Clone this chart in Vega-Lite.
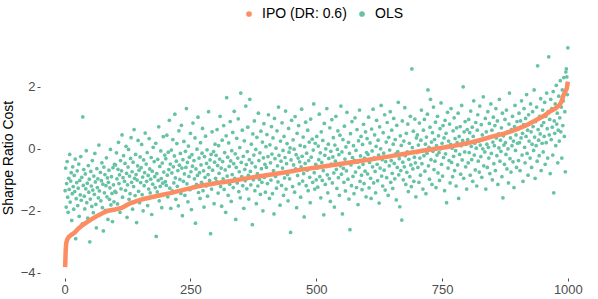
{
"$schema": "https://vega.github.io/schema/vega-lite/v6.json",
"width": 553, "height": 241,
"autosize": {"type": "none"},
"padding": {"left": 40, "top": 37, "right": 5, "bottom": 21},
"config": {"view": {"stroke": null}, "font": "Liberation Sans",
 "axis": {"domain": false, "grid": false, "tickColor": "#4D4D4D", "tickSize": 3, "tickWidth": 1, "labelColor": "#4D4D4D", "labelFontSize": 13, "labelFont": "Liberation Sans", "labelPadding": 2, "titleFont": "Liberation Sans", "titleFontSize": 14, "titleFontWeight": "normal", "titleColor": "#000000"}},
"datasets": {
"ols": [
{"x":1,"y":-1.35},{"x":2,"y":-0.62},{"x":3,"y":-1.88},{"x":4,"y":-1.12},{"x":5,"y":-0.41},{"x":6,"y":-1.56},{"x":7,"y":-2.05},{"x":8,"y":-0.95},{"x":9,"y":-1.31},{"x":10,"y":-0.18},
{"x":11,"y":-1.72},{"x":12,"y":-1.04},{"x":13,"y":-0.77},{"x":14,"y":-2.31},{"x":15,"y":-1.45},{"x":16,"y":-0.58},{"x":17,"y":-1.22},{"x":18,"y":-1.95},{"x":19,"y":-0.86},{"x":20,"y":-1.38},
{"x":21,"y":-0.33},{"x":22,"y":-2.9},{"x":23,"y":-1.61},{"x":24,"y":-1.09},{"x":25,"y":-0.71},{"x":26,"y":-1.83},{"x":27,"y":-1.27},{"x":28,"y":-0.49},{"x":29,"y":-2.18},{"x":30,"y":-1.02},
{"x":31,"y":-1.49},{"x":32,"y":-0.25},{"x":33,"y":-1.66},{"x":34,"y":-0.92},{"x":35,"y":-2.42},{"x":36,"y":1.03},{"x":37,"y":-1.18},{"x":38,"y":-0.67},{"x":39,"y":-1.53},{"x":40,"y":-1.94},
{"x":41,"y":-0.81},{"x":42,"y":-1.29},{"x":43,"y":-0.06},{"x":44,"y":-1.74},{"x":45,"y":-1.11},{"x":46,"y":-2.24},{"x":47,"y":-0.54},{"x":48,"y":-1.4},{"x":49,"y":-0.98},{"x":50,"y":-3.0},
{"x":51,"y":-1.62},{"x":52,"y":-0.73},{"x":53,"y":-1.2},{"x":54,"y":-1.86},{"x":55,"y":-0.38},{"x":56,"y":-1.33},{"x":57,"y":-2.06},{"x":58,"y":-0.88},{"x":59,"y":-1.47},{"x":60,"y":-0.15},
{"x":61,"y":-1.07},{"x":62,"y":-1.79},{"x":63,"y":-2.55},{"x":64,"y":-0.64},{"x":65,"y":-1.25},{"x":66,"y":-0.97},{"x":67,"y":-1.58},{"x":68,"y":0.12},{"x":69,"y":-1.36},{"x":70,"y":-2.12},
{"x":71,"y":-0.76},{"x":72,"y":-1.68},{"x":73,"y":-1.03},{"x":74,"y":-0.45},{"x":75,"y":-1.9},{"x":76,"y":-1.14},{"x":77,"y":-2.65},{"x":78,"y":-0.59},{"x":79,"y":-1.42},{"x":80,"y":-0.83},
{"x":81,"y":-1.99},{"x":82,"y":-1.19},{"x":83,"y":-0.29},{"x":84,"y":-1.55},{"x":85,"y":-0.94},{"x":86,"y":-2.28},{"x":87,"y":-1.08},{"x":88,"y":-0.69},{"x":89,"y":-1.63},{"x":90,"y":-1.26},
{"x":91,"y":-0.02},{"x":92,"y":-1.81},{"x":93,"y":-0.9},{"x":94,"y":-1.44},{"x":95,"y":-2.35},{"x":96,"y":-0.61},{"x":97,"y":-1.16},{"x":98,"y":-1.71},{"x":99,"y":-0.5},{"x":100,"y":-1.37},
{"x":101,"y":-0.52},{"x":102,"y":-1.41},{"x":103,"y":-0.13},{"x":104,"y":-0.97},{"x":105,"y":-1.78},{"x":106,"y":-0.66},{"x":107,"y":0.21},{"x":108,"y":-1.12},{"x":109,"y":-0.84},{"x":110,"y":-2.05},
{"x":111,"y":-0.38},{"x":112,"y":-1.29},{"x":113,"y":-0.71},{"x":114,"y":0.45},{"x":115,"y":-1.56},{"x":116,"y":-0.93},{"x":117,"y":-0.22},{"x":118,"y":-1.87},{"x":119,"y":-1.05},{"x":120,"y":-0.47},
{"x":121,"y":-1.34},{"x":122,"y":0.08},{"x":123,"y":-0.79},{"x":124,"y":-2.21},{"x":125,"y":-1.16},{"x":126,"y":-0.59},{"x":127,"y":-0.02},{"x":128,"y":-1.63},{"x":129,"y":-0.88},{"x":130,"y":-1.45},
{"x":131,"y":-0.31},{"x":132,"y":0.36},{"x":133,"y":-1.08},{"x":134,"y":-0.74},{"x":135,"y":-1.95},{"x":136,"y":-0.43},{"x":137,"y":-1.22},{"x":138,"y":0.62},{"x":139,"y":-0.95},{"x":140,"y":-1.51},
{"x":141,"y":-0.18},{"x":142,"y":-0.83},{"x":143,"y":-2.38},{"x":144,"y":-1.01},{"x":145,"y":-0.55},{"x":146,"y":0.27},{"x":147,"y":-1.37},{"x":148,"y":-0.69},{"x":149,"y":-1.74},{"x":150,"y":-0.26},
{"x":151,"y":-1.09},{"x":152,"y":-0.61},{"x":153,"y":0.14},{"x":154,"y":-1.48},{"x":155,"y":-0.91},{"x":156,"y":-2.0},{"x":157,"y":-0.36},{"x":158,"y":-1.19},{"x":159,"y":-0.77},{"x":160,"y":0.51},
{"x":161,"y":-1.6},{"x":162,"y":-0.49},{"x":163,"y":-1.05},{"x":164,"y":-0.12},{"x":165,"y":-1.83},{"x":166,"y":-0.86},{"x":167,"y":-1.3},{"x":168,"y":0.33},{"x":169,"y":-0.65},{"x":170,"y":-1.42},
{"x":171,"y":-0.98},{"x":172,"y":-0.28},{"x":173,"y":-2.12},{"x":174,"y":-0.72},{"x":175,"y":-1.14},{"x":176,"y":0.05},{"x":177,"y":-1.55},{"x":178,"y":-0.41},{"x":179,"y":-0.9},{"x":180,"y":-1.25},
{"x":181,"y":0.18},{"x":182,"y":-2.83},{"x":183,"y":-0.8},{"x":184,"y":-1.39},{"x":185,"y":-0.34},{"x":186,"y":-1.02},{"x":187,"y":0.71},{"x":188,"y":-1.68},{"x":189,"y":-0.57},{"x":190,"y":-1.21},
{"x":191,"y":-0.07},{"x":192,"y":-0.96},{"x":193,"y":-1.9},{"x":194,"y":-0.46},{"x":195,"y":-1.11},{"x":196,"y":0.39},{"x":197,"y":-0.75},{"x":198,"y":-1.47},{"x":199,"y":-0.2},{"x":200,"y":-1.06},
{"x":201,"y":-0.32},{"x":202,"y":-1.18},{"x":203,"y":0.44},{"x":204,"y":-0.85},{"x":205,"y":-1.55},{"x":206,"y":-0.11},{"x":207,"y":-0.67},{"x":208,"y":0.92},{"x":209,"y":-1.27},{"x":210,"y":-0.49},
{"x":211,"y":-1.92},{"x":212,"y":-0.04},{"x":213,"y":-0.78},{"x":214,"y":-1.36},{"x":215,"y":0.3},{"x":216,"y":-0.58},{"x":217,"y":-1.1},{"x":218,"y":-0.23},{"x":219,"y":1.12},{"x":220,"y":-0.94},
{"x":221,"y":-1.63},{"x":222,"y":-0.4},{"x":223,"y":0.17},{"x":224,"y":-1.21},{"x":225,"y":-0.7},{"x":226,"y":-1.84},{"x":227,"y":0.58},{"x":228,"y":-0.53},{"x":229,"y":-0.99},{"x":230,"y":-0.15},
{"x":231,"y":-1.44},{"x":232,"y":0.76},{"x":233,"y":-0.62},{"x":234,"y":-2.16},{"x":235,"y":-0.35},{"x":236,"y":-1.05},{"x":237,"y":0.24},{"x":238,"y":-0.81},{"x":239,"y":-1.5},{"x":240,"y":-0.08},
{"x":241,"y":-0.6},{"x":242,"y":1.3},{"x":243,"y":-1.13},{"x":244,"y":-0.44},{"x":245,"y":-1.71},{"x":246,"y":0.09},{"x":247,"y":-0.89},{"x":248,"y":-0.27},{"x":249,"y":-1.32},{"x":250,"y":0.5},
{"x":251,"y":-0.74},{"x":252,"y":-1.96},{"x":253,"y":-0.19},{"x":254,"y":-0.56},{"x":255,"y":0.83},{"x":256,"y":-1.24},{"x":257,"y":-0.38},{"x":258,"y":-0.97},{"x":259,"y":0.35},{"x":260,"y":-2.4},
{"x":261,"y":-0.65},{"x":262,"y":-1.15},{"x":263,"y":-0.01},{"x":264,"y":-0.86},{"x":265,"y":1.02},{"x":266,"y":-1.41},{"x":267,"y":-0.3},{"x":268,"y":-0.77},{"x":269,"y":-1.6},{"x":270,"y":0.2},
{"x":271,"y":-0.52},{"x":272,"y":-1.08},{"x":273,"y":-0.14},{"x":274,"y":0.66},{"x":275,"y":-1.35},{"x":276,"y":-0.71},{"x":277,"y":-1.88},{"x":278,"y":-0.25},{"x":279,"y":-0.92},{"x":280,"y":0.41},
{"x":281,"y":-1.2},{"x":282,"y":-0.47},{"x":283,"y":-0.03},{"x":284,"y":-1.53},{"x":285,"y":-0.83},{"x":286,"y":1.2},{"x":287,"y":-0.6},{"x":288,"y":-1.02},{"x":289,"y":-0.36},{"x":290,"y":-2.74},
{"x":291,"y":-0.18},{"x":292,"y":-1.3},{"x":293,"y":0.55},{"x":294,"y":-0.69},{"x":295,"y":-1.12},{"x":296,"y":-0.09},{"x":297,"y":-1.77},{"x":298,"y":-0.43},{"x":299,"y":0.15},{"x":300,"y":-0.95},
{"x":301,"y":-0.21},{"x":302,"y":-1.06},{"x":303,"y":0.62},{"x":304,"y":-0.54},{"x":305,"y":-1.43},{"x":306,"y":0.1},{"x":307,"y":-0.79},{"x":308,"y":-0.33},{"x":309,"y":1.05},{"x":310,"y":-1.22},
{"x":311,"y":-0.62},{"x":312,"y":-1.85},{"x":313,"y":0.28},{"x":314,"y":-0.41},{"x":315,"y":-0.97},{"x":316,"y":0.75},{"x":317,"y":-1.31},{"x":318,"y":-0.12},{"x":319,"y":-0.68},{"x":320,"y":-2.05},
{"x":321,"y":0.42},{"x":322,"y":1.65},{"x":323,"y":-0.88},{"x":324,"y":-0.27},{"x":325,"y":-1.5},{"x":326,"y":0.19},{"x":327,"y":-0.57},{"x":328,"y":-1.14},{"x":329,"y":0.88},{"x":330,"y":-0.39},
{"x":331,"y":-1.7},{"x":332,"y":-0.06},{"x":333,"y":-0.83},{"x":334,"y":0.53},{"x":335,"y":-1.25},{"x":336,"y":-0.48},{"x":337,"y":1.21},{"x":338,"y":-0.95},{"x":339,"y":-0.16},{"x":340,"y":-2.28},
{"x":341,"y":-0.6},{"x":342,"y":0.34},{"x":343,"y":-1.1},{"x":344,"y":-0.3},{"x":345,"y":0.97},{"x":346,"y":-1.38},{"x":347,"y":-0.74},{"x":348,"y":0.04},{"x":349,"y":-1.58},{"x":350,"y":1.8},
{"x":351,"y":-0.44},{"x":352,"y":-0.9},{"x":353,"y":0.6},{"x":354,"y":-1.19},{"x":355,"y":-0.24},{"x":356,"y":-1.92},{"x":357,"y":0.26},{"x":358,"y":-0.66},{"x":359,"y":-1.03},{"x":360,"y":1.38},
{"x":361,"y":-0.51},{"x":362,"y":-1.29},{"x":363,"y":-0.09},{"x":364,"y":0.7},{"x":365,"y":-0.86},{"x":366,"y":-1.62},{"x":367,"y":-0.35},{"x":368,"y":1.6},{"x":369,"y":-0.73},{"x":370,"y":-1.16},
{"x":371,"y":0.15},{"x":372,"y":-0.45},{"x":373,"y":-2.45},{"x":374,"y":0.48},{"x":375,"y":-1.0},{"x":376,"y":-0.2},{"x":377,"y":0.9},{"x":378,"y":-1.35},{"x":379,"y":-0.58},{"x":380,"y":-0.02},
{"x":381,"y":-1.77},{"x":382,"y":0.37},{"x":383,"y":-0.8},{"x":384,"y":-1.2},{"x":385,"y":1.15},{"x":386,"y":-0.38},{"x":387,"y":-0.99},{"x":388,"y":-0.13},{"x":389,"y":-1.47},{"x":390,"y":0.57},
{"x":391,"y":-0.64},{"x":392,"y":-1.08},{"x":393,"y":0.22},{"x":394,"y":-2.0},{"x":395,"y":-0.29},{"x":396,"y":0.81},{"x":397,"y":-0.92},{"x":398,"y":-0.5},{"x":399,"y":-1.4},{"x":400,"y":0.07},
{"x":401,"y":-0.6},{"x":402,"y":0.46},{"x":403,"y":-1.12},{"x":404,"y":-0.25},{"x":405,"y":1.1},{"x":406,"y":-0.84},{"x":407,"y":-1.6},{"x":408,"y":0.13},{"x":409,"y":-0.45},{"x":410,"y":-1.01},
{"x":411,"y":0.72},{"x":412,"y":-0.17},{"x":413,"y":-1.45},{"x":414,"y":0.35},{"x":415,"y":-0.7},{"x":416,"y":-2.1},{"x":417,"y":0.98},{"x":418,"y":-0.32},{"x":419,"y":-0.89},{"x":420,"y":0.02},
{"x":421,"y":-1.27},{"x":422,"y":0.58},{"x":423,"y":-0.55},{"x":424,"y":-1.07},{"x":425,"y":1.35},{"x":426,"y":-0.21},{"x":427,"y":-0.78},{"x":428,"y":-1.82},{"x":429,"y":0.25},{"x":430,"y":-0.4},
{"x":431,"y":-1.18},{"x":432,"y":0.84},{"x":433,"y":-0.62},{"x":434,"y":-0.05},{"x":435,"y":-1.5},{"x":436,"y":0.4},{"x":437,"y":-0.94},{"x":438,"y":-0.28},{"x":439,"y":1.22},{"x":440,"y":-1.3},
{"x":441,"y":-0.48},{"x":442,"y":0.17},{"x":443,"y":-0.83},{"x":444,"y":-1.68},{"x":445,"y":0.66},{"x":446,"y":-0.11},{"x":447,"y":-0.97},{"x":448,"y":0.03},{"x":449,"y":-2.7},{"x":450,"y":-0.36},
{"x":451,"y":0.92},{"x":452,"y":-0.73},{"x":453,"y":-1.22},{"x":454,"y":0.29},{"x":455,"y":-0.52},{"x":456,"y":-0.01},{"x":457,"y":-1.4},{"x":458,"y":1.04},{"x":459,"y":-0.65},{"x":460,"y":-0.19},
{"x":461,"y":-1.9},{"x":462,"y":0.5},{"x":463,"y":-0.86},{"x":464,"y":-0.3},{"x":465,"y":0.75},{"x":466,"y":-1.13},{"x":467,"y":-0.42},{"x":468,"y":0.11},{"x":469,"y":-1.56},{"x":470,"y":-0.58},
{"x":471,"y":1.28},{"x":472,"y":-0.24},{"x":473,"y":-1.04},{"x":474,"y":0.38},{"x":475,"y":-0.8},{"x":476,"y":-2.2},{"x":477,"y":0.07},{"x":478,"y":-0.47},{"x":479,"y":0.86},{"x":480,"y":-1.19},
{"x":481,"y":-0.14},{"x":482,"y":-0.69},{"x":483,"y":0.6},{"x":484,"y":-1.35},{"x":485,"y":-0.38},{"x":486,"y":0.22},{"x":487,"y":-0.92},{"x":488,"y":-1.74},{"x":489,"y":0.96},{"x":490,"y":-0.27},
{"x":491,"y":-0.61},{"x":492,"y":0.31},{"x":493,"y":-1.08},{"x":494,"y":-0.04},{"x":495,"y":1.45},{"x":496,"y":-0.77},{"x":497,"y":-1.3},{"x":498,"y":0.18},{"x":499,"y":-0.5},{"x":500,"y":-1.0},
{"x":501,"y":0.4},{"x":502,"y":-0.62},{"x":503,"y":-1.24},{"x":504,"y":0.09},{"x":505,"y":-0.35},{"x":506,"y":1.12},{"x":507,"y":-0.9},{"x":508,"y":-0.13},{"x":509,"y":-1.58},{"x":510,"y":0.55},
{"x":511,"y":-0.44},{"x":512,"y":-1.02},{"x":513,"y":0.27},{"x":514,"y":-0.7},{"x":515,"y":-2.13},{"x":516,"y":0.82},{"x":517,"y":-0.21},{"x":518,"y":-1.15},{"x":519,"y":0.0},{"x":520,"y":-0.57},
{"x":521,"y":1.3},{"x":522,"y":-0.84},{"x":523,"y":-1.42},{"x":524,"y":0.15},{"x":525,"y":-0.31},{"x":526,"y":-0.96},{"x":527,"y":0.68},{"x":528,"y":-1.7},{"x":529,"y":-0.08},{"x":530,"y":-0.49},
{"x":531,"y":0.94},{"x":532,"y":-1.1},{"x":533,"y":-0.26},{"x":534,"y":0.36},{"x":535,"y":-0.78},{"x":536,"y":-1.88},{"x":537,"y":0.12},{"x":538,"y":-0.4},{"x":539,"y":1.05},{"x":540,"y":-0.66},
{"x":541,"y":-1.28},{"x":542,"y":-0.02},{"x":543,"y":0.58},{"x":544,"y":-0.93},{"x":545,"y":-0.19},{"x":546,"y":-1.5},{"x":547,"y":0.44},{"x":548,"y":-0.55},{"x":549,"y":1.38},{"x":550,"y":-0.82},
{"x":551,"y":-0.1},{"x":552,"y":-2.1},{"x":553,"y":0.3},{"x":554,"y":-0.63},{"x":555,"y":-1.08},{"x":556,"y":0.73},{"x":557,"y":-0.33},{"x":558,"y":-1.36},{"x":559,"y":0.06},{"x":560,"y":-0.71},
{"x":561,"y":1.18},{"x":562,"y":-0.46},{"x":563,"y":-0.98},{"x":564,"y":0.21},{"x":565,"y":-1.62},{"x":566,"y":-0.15},{"x":567,"y":-2.61},{"x":568,"y":0.49},{"x":569,"y":-0.52},{"x":570,"y":-1.19},
{"x":571,"y":0.88},{"x":572,"y":-0.28},{"x":573,"y":-0.89},{"x":574,"y":0.1},{"x":575,"y":-1.45},{"x":576,"y":-0.37},{"x":577,"y":1.0},{"x":578,"y":-0.75},{"x":579,"y":-0.05},{"x":580,"y":-1.25},
{"x":581,"y":0.62},{"x":582,"y":-0.43},{"x":583,"y":-1.8},{"x":584,"y":0.26},{"x":585,"y":-0.6},{"x":586,"y":1.25},{"x":587,"y":-1.05},{"x":588,"y":-0.23},{"x":589,"y":0.4},{"x":590,"y":-0.85},
{"x":591,"y":-1.32},{"x":592,"y":0.14},{"x":593,"y":-0.5},{"x":594,"y":0.79},{"x":595,"y":-1.12},{"x":596,"y":-0.3},{"x":597,"y":-0.72},{"x":598,"y":0.55},{"x":599,"y":-1.55},{"x":600,"y":-0.12},
{"x":601,"y":0.33},{"x":602,"y":-0.81},{"x":603,"y":-0.18},{"x":604,"y":1.02},{"x":605,"y":-1.26},{"x":606,"y":-0.44},{"x":607,"y":0.19},{"x":608,"y":-0.95},{"x":609,"y":-1.6},{"x":610,"y":0.64},
{"x":611,"y":-0.07},{"x":612,"y":-0.58},{"x":613,"y":1.28},{"x":614,"y":-1.1},{"x":615,"y":-0.29},{"x":616,"y":0.45},{"x":617,"y":-0.73},{"x":618,"y":-1.42},{"x":619,"y":0.08},{"x":620,"y":0.92},
{"x":621,"y":-0.5},{"x":622,"y":-1.03},{"x":623,"y":0.28},{"x":624,"y":-0.2},{"x":625,"y":-1.75},{"x":626,"y":0.71},{"x":627,"y":-0.62},{"x":628,"y":0.0},{"x":629,"y":1.4},{"x":630,"y":-0.88},
{"x":631,"y":-0.35},{"x":632,"y":-1.2},{"x":633,"y":0.52},{"x":634,"y":-0.14},{"x":635,"y":-0.69},{"x":636,"y":1.1},{"x":637,"y":-1.33},{"x":638,"y":-0.41},{"x":639,"y":0.22},{"x":640,"y":-0.93},
{"x":641,"y":0.85},{"x":642,"y":-0.25},{"x":643,"y":-1.5},{"x":644,"y":0.37},{"x":645,"y":-0.55},{"x":646,"y":-0.04},{"x":647,"y":1.2},{"x":648,"y":-1.08},{"x":649,"y":-0.38},{"x":650,"y":0.6},
{"x":651,"y":-0.79},{"x":652,"y":-1.28},{"x":653,"y":0.15},{"x":654,"y":0.98},{"x":655,"y":-0.47},{"x":656,"y":-0.97},{"x":657,"y":0.3},{"x":658,"y":-0.16},{"x":659,"y":-1.65},{"x":660,"y":0.76},
{"x":661,"y":-0.6},{"x":662,"y":-0.09},{"x":663,"y":1.5},{"x":664,"y":-0.84},{"x":665,"y":-0.32},{"x":666,"y":-1.87},{"x":667,"y":0.42},{"x":668,"y":-0.7},{"x":669,"y":0.11},{"x":670,"y":-2.3},
{"x":671,"y":0.9},{"x":672,"y":-0.43},{"x":673,"y":-1.0},{"x":674,"y":0.25},{"x":675,"y":-0.58},{"x":676,"y":1.33},{"x":677,"y":-0.22},{"x":678,"y":-1.15},{"x":679,"y":0.5},{"x":680,"y":-0.76},
{"x":681,"y":-0.1},{"x":682,"y":0.8},{"x":683,"y":-1.38},{"x":684,"y":-0.34},{"x":685,"y":0.18},{"x":686,"y":-0.9},{"x":687,"y":1.05},{"x":688,"y":-0.52},{"x":689,"y":-1.22},{"x":690,"y":2.58},
{"x":691,"y":0.04},{"x":692,"y":-0.65},{"x":693,"y":0.57},{"x":694,"y":-1.05},{"x":695,"y":-0.27},{"x":696,"y":0.96},{"x":697,"y":-0.45},{"x":698,"y":-1.55},{"x":699,"y":0.35},{"x":700,"y":-0.12},
{"x":701,"y":0.45},{"x":702,"y":-0.6},{"x":703,"y":0.12},{"x":704,"y":-1.08},{"x":705,"y":0.83},{"x":706,"y":-0.3},{"x":707,"y":-0.85},{"x":708,"y":0.28},{"x":709,"y":1.25},{"x":710,"y":-0.48},
{"x":711,"y":-0.05},{"x":712,"y":-1.3},{"x":713,"y":0.6},{"x":714,"y":-0.22},{"x":715,"y":0.95},{"x":716,"y":-0.72},{"x":717,"y":0.15},{"x":718,"y":-1.45},{"x":719,"y":0.38},{"x":720,"y":-0.14},
{"x":721,"y":1.12},{"x":722,"y":1.9},{"x":723,"y":-0.55},{"x":724,"y":0.05},{"x":725,"y":-0.98},{"x":726,"y":0.7},{"x":727,"y":1.6},{"x":728,"y":-0.35},{"x":729,"y":0.22},{"x":730,"y":-1.15},
{"x":731,"y":0.52},{"x":732,"y":-0.08},{"x":733,"y":1.35},{"x":734,"y":-0.67},{"x":735,"y":0.3},{"x":736,"y":-0.4},{"x":737,"y":0.86},{"x":738,"y":-1.25},{"x":739,"y":0.1},{"x":740,"y":-0.2},
{"x":741,"y":1.05},{"x":742,"y":-0.78},{"x":743,"y":0.42},{"x":744,"y":-0.12},{"x":745,"y":-1.02},{"x":746,"y":0.65},{"x":747,"y":0.0},{"x":748,"y":1.48},{"x":749,"y":-0.5},{"x":750,"y":0.18},
{"x":751,"y":-0.88},{"x":752,"y":0.75},{"x":753,"y":-0.28},{"x":754,"y":0.35},{"x":755,"y":-1.35},{"x":756,"y":0.92},{"x":757,"y":-0.16},{"x":758,"y":0.5},{"x":759,"y":-1.74},{"x":760,"y":0.08},
{"x":761,"y":1.18},{"x":762,"y":-0.62},{"x":763,"y":0.25},{"x":764,"y":-0.38},{"x":765,"y":0.8},{"x":766,"y":-1.1},{"x":767,"y":0.14},{"x":768,"y":1.3},{"x":769,"y":-0.44},{"x":770,"y":0.02},
{"x":771,"y":-0.9},{"x":772,"y":0.58},{"x":773,"y":-0.24},{"x":774,"y":1.0},{"x":775,"y":-0.7},{"x":776,"y":0.33},{"x":777,"y":-0.06},{"x":778,"y":-1.2},{"x":779,"y":0.68},{"x":780,"y":0.2},
{"x":781,"y":-0.52},{"x":782,"y":1.15},{"x":783,"y":-1.6},{"x":784,"y":0.4},{"x":785,"y":-0.18},{"x":786,"y":0.72},{"x":787,"y":-0.82},{"x":788,"y":0.1},{"x":789,"y":1.4},{"x":790,"y":-0.36},
{"x":791,"y":0.27},{"x":792,"y":2.0},{"x":793,"y":-0.95},{"x":794,"y":0.55},{"x":795,"y":-0.1},{"x":796,"y":0.88},{"x":797,"y":-0.58},{"x":798,"y":0.15},{"x":799,"y":-1.3},{"x":800,"y":0.62},
{"x":801,"y":0.3},{"x":802,"y":-0.45},{"x":803,"y":0.95},{"x":804,"y":-0.12},{"x":805,"y":0.52},{"x":806,"y":-0.85},{"x":807,"y":1.22},{"x":808,"y":0.08},{"x":809,"y":-0.35},{"x":810,"y":0.7},
{"x":811,"y":-1.05},{"x":812,"y":0.4},{"x":813,"y":1.55},{"x":814,"y":-0.2},{"x":815,"y":0.18},{"x":816,"y":-0.68},{"x":817,"y":0.85},{"x":818,"y":0.02},{"x":819,"y":-1.2},{"x":820,"y":0.6},
{"x":821,"y":1.1},{"x":822,"y":-0.4},{"x":823,"y":0.25},{"x":824,"y":-0.75},{"x":825,"y":1.38},{"x":826,"y":0.12},{"x":827,"y":-0.25},{"x":828,"y":0.78},{"x":829,"y":-0.92},{"x":830,"y":0.45},
{"x":831,"y":0.0},{"x":832,"y":1.68},{"x":833,"y":-0.55},{"x":834,"y":0.32},{"x":835,"y":-0.1},{"x":836,"y":0.98},{"x":837,"y":-1.3},{"x":838,"y":0.55},{"x":839,"y":0.15},{"x":840,"y":-0.6},
{"x":841,"y":1.2},{"x":842,"y":0.05},{"x":843,"y":-0.3},{"x":844,"y":0.82},{"x":845,"y":-0.8},{"x":846,"y":0.38},{"x":847,"y":1.45},{"x":848,"y":-0.15},{"x":849,"y":0.6},{"x":850,"y":-1.0},
{"x":851,"y":0.22},{"x":852,"y":1.02},{"x":853,"y":-0.48},{"x":854,"y":0.1},{"x":855,"y":0.75},{"x":856,"y":-0.7},{"x":857,"y":1.3},{"x":858,"y":0.35},{"x":859,"y":-0.22},{"x":860,"y":0.9},
{"x":861,"y":-1.15},{"x":862,"y":0.48},{"x":863,"y":0.03},{"x":864,"y":1.6},{"x":865,"y":-0.4},{"x":866,"y":0.28},{"x":867,"y":-0.08},{"x":868,"y":0.68},{"x":869,"y":-0.9},{"x":870,"y":1.15},
{"x":871,"y":-1.58},{"x":872,"y":0.42},{"x":873,"y":0.12},{"x":874,"y":-0.5},{"x":875,"y":0.95},{"x":876,"y":0.2},{"x":877,"y":-0.18},{"x":878,"y":1.25},{"x":879,"y":-0.65},{"x":880,"y":0.55},
{"x":881,"y":0.0},{"x":882,"y":-1.1},{"x":883,"y":0.8},{"x":884,"y":1.8},{"x":885,"y":-0.32},{"x":886,"y":0.35},{"x":887,"y":-0.75},{"x":888,"y":0.62},{"x":889,"y":0.1},{"x":890,"y":1.05},
{"x":891,"y":-0.42},{"x":892,"y":0.25},{"x":893,"y":-1.25},{"x":894,"y":0.72},{"x":895,"y":1.4},{"x":896,"y":-0.05},{"x":897,"y":0.45},{"x":898,"y":-0.6},{"x":899,"y":0.88},{"x":900,"y":0.18},
{"x":901,"y":0.65},{"x":902,"y":-0.38},{"x":903,"y":1.15},{"x":904,"y":0.2},{"x":905,"y":-0.7},{"x":906,"y":0.9},{"x":907,"y":0.35},{"x":908,"y":1.55},{"x":909,"y":-0.2},{"x":910,"y":0.5},
{"x":911,"y":-1.05},{"x":912,"y":0.78},{"x":913,"y":1.3},{"x":914,"y":0.05},{"x":915,"y":-0.45},{"x":916,"y":0.98},{"x":917,"y":0.4},{"x":918,"y":1.75},{"x":919,"y":-0.15},{"x":920,"y":0.6},
{"x":921,"y":-0.85},{"x":922,"y":1.1},{"x":923,"y":0.25},{"x":924,"y":0.82},{"x":925,"y":-0.3},{"x":926,"y":1.45},{"x":927,"y":0.55},{"x":928,"y":-0.6},{"x":929,"y":0.15},{"x":930,"y":1.2},
{"x":931,"y":0.72},{"x":932,"y":-0.05},{"x":933,"y":1.9},{"x":934,"y":0.38},{"x":935,"y":-0.95},{"x":936,"y":0.88},{"x":937,"y":0.1},{"x":938,"y":1.35},{"x":939,"y":-0.4},{"x":940,"y":2.68},
{"x":941,"y":0.62},{"x":942,"y":0.28},{"x":943,"y":-0.22},{"x":944,"y":1.05},{"x":945,"y":0.48},{"x":946,"y":1.62},{"x":947,"y":-0.7},{"x":948,"y":0.75},{"x":949,"y":0.18},{"x":950,"y":1.25},
{"x":951,"y":-0.1},{"x":952,"y":0.85},{"x":953,"y":0.4},{"x":954,"y":1.5},{"x":955,"y":-0.5},{"x":956,"y":1.05},{"x":957,"y":0.2},{"x":958,"y":1.8},{"x":959,"y":0.65},{"x":960,"y":-0.3},
{"x":961,"y":1.2},{"x":962,"y":2.97},{"x":963,"y":0.45},{"x":964,"y":0.95},{"x":965,"y":-0.8},{"x":966,"y":1.6},{"x":967,"y":0.3},{"x":968,"y":1.3},{"x":969,"y":0.7},{"x":970,"y":-0.2},
{"x":971,"y":1.85},{"x":972,"y":-1.42},{"x":973,"y":0.9},{"x":974,"y":0.5},{"x":975,"y":1.45},{"x":976,"y":0.1},{"x":977,"y":2.05},{"x":978,"y":0.8},{"x":979,"y":1.15},{"x":980,"y":-0.45},
{"x":981,"y":0.6},{"x":982,"y":1.7},{"x":983,"y":0.25},{"x":984,"y":1.0},{"x":985,"y":2.2},{"x":986,"y":0.55},{"x":987,"y":1.35},{"x":988,"y":-0.3},{"x":989,"y":1.9},{"x":990,"y":0.75},
{"x":991,"y":1.55},{"x":992,"y":2.3},{"x":993,"y":0.4},{"x":994,"y":1.2},{"x":995,"y":-0.74},{"x":996,"y":2.48},{"x":997,"y":2.58},{"x":998,"y":2.32},{"x":999,"y":1.75},{"x":1000,"y":3.26}
],
"ipo": [
{"x":1,"y":-3.82},{"x":2,"y":-3.3},{"x":3,"y":-3.05},{"x":5,"y":-2.93},{"x":8,"y":-2.85},{"x":14,"y":-2.77},{"x":20,"y":-2.7},{"x":27,"y":-2.58},{"x":35,"y":-2.47},{"x":43,"y":-2.38},
{"x":53,"y":-2.28},{"x":63,"y":-2.18},{"x":75,"y":-2.08},{"x":86,"y":-2.0},{"x":100,"y":-1.96},{"x":113,"y":-1.91},{"x":122,"y":-1.83},{"x":130,"y":-1.76},{"x":150,"y":-1.65},{"x":170,"y":-1.57},
{"x":190,"y":-1.5},{"x":210,"y":-1.43},{"x":240,"y":-1.31},{"x":268,"y":-1.2},{"x":300,"y":-1.11},{"x":334,"y":-1.03},{"x":370,"y":-0.93},{"x":401,"y":-0.85},{"x":430,"y":-0.78},{"x":467,"y":-0.68},
{"x":500,"y":-0.6},{"x":547,"y":-0.49},{"x":600,"y":-0.36},{"x":640,"y":-0.26},{"x":676,"y":-0.16},{"x":720,"y":-0.04},{"x":760,"y":0.06},{"x":785,"y":0.13},{"x":805,"y":0.2},{"x":830,"y":0.3},
{"x":851,"y":0.4},{"x":875,"y":0.5},{"x":898,"y":0.63},{"x":920,"y":0.78},{"x":938,"y":0.94},{"x":952,"y":1.06},{"x":964,"y":1.2},{"x":975,"y":1.3},{"x":984,"y":1.42},{"x":988,"y":1.55},
{"x":991,"y":1.72},{"x":995,"y":1.85},{"x":998,"y":1.95},{"x":1000,"y":2.17}
]
},
"layer": [
{"data": {"name": "ols"},
 "mark": {"type": "point", "filled": true, "size": 14, "opacity": 1},
 "encoding": {
  "x": {"field": "x", "type": "quantitative", "scale": {"domain": [-49, 1050], "nice": false, "zero": false}, "axis": {"values": [0, 250, 500, 750, 1000], "format": "d", "title": null}},
  "y": {"field": "y", "type": "quantitative", "scale": {"domain": [-4.17, 3.61], "nice": false, "zero": false}, "axis": {"values": [-4, -2, 0, 2], "title": "Sharpe Ratio Cost", "titlePadding": 5}},
  "color": {"datum": "OLS", "type": "nominal", "scale": {"domain": ["IPO (DR: 0.6)", "OLS"], "range": ["#FC8D62", "#66C2A5"]},
   "legend": {"title": null, "orient": "none", "direction": "horizontal", "legendX": 202, "legendY": -30, "symbolType": "circle", "symbolSize": 32, "symbolStrokeWidth": 0, "labelFontSize": 14, "labelColor": "#000000", "labelFont": "Liberation Sans", "labelOffset": 6, "columnPadding": 8}}
 }},
{"data": {"name": "ipo"},
 "mark": {"type": "line", "color": "#FC8D62", "strokeWidth": 4.5},
 "encoding": {
  "x": {"field": "x", "type": "quantitative"},
  "y": {"field": "y", "type": "quantitative"}
 }}
]
}
